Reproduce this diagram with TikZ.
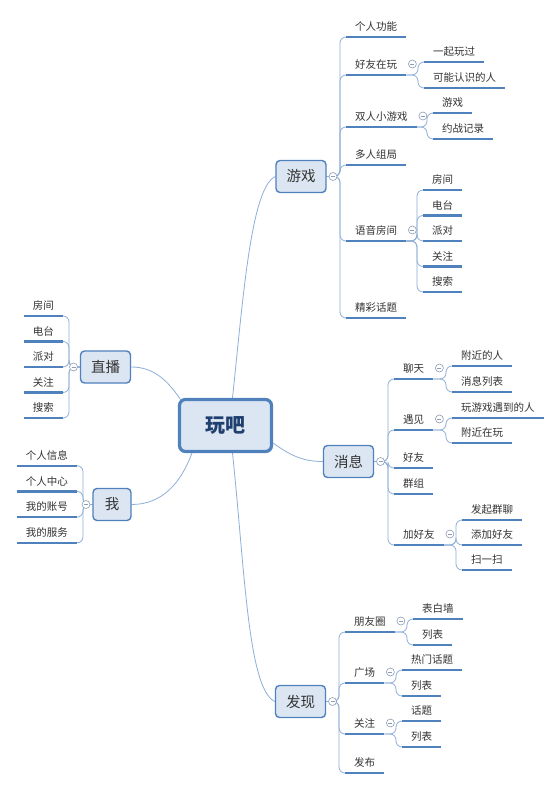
\documentclass[tikz,border=0pt]{standalone}
\usepackage{fontspec}
\usepackage{tikz}
\usepackage{xcolor}
\usetikzlibrary{positioning}
\newfontfamily\cjk{Noto Sans CJK SC}
\definecolor{topicfill}{HTML}{DCE6F2}
\definecolor{topicline}{HTML}{4F81BD}
\definecolor{branch}{HTML}{8EAFD8}
\definecolor{ink}{HTML}{333333}
\definecolor{rootink}{HTML}{1F3F6E}
\definecolor{knobline}{HTML}{8C9DB5}
\pgfdeclarelayer{back}
\pgfsetlayers{back,main}
\tikzset{
  root/.style={draw=topicline, fill=topicfill, rounded corners=6pt, line width=3.2pt,
               minimum width=92pt, minimum height=52pt, text=rootink,
               font=\cjk\fontsize{20}{24}\selectfont\bfseries},
  topic/.style={draw=topicline, fill=topicfill, rounded corners=4pt, line width=1.4pt,
                minimum width=50pt, minimum height=32pt, inner xsep=6pt, text=ink,
                font=\cjk\fontsize{14.5}{17}\selectfont},
  uline/.style={draw=topicline, line width=2.2pt},
  leaf/.style={anchor=south west, inner xsep=9pt, inner ysep=4pt, text height=8pt,
               text depth=2pt, text=ink, font=\cjk\fontsize{10.5}{12}\selectfont,
               append after command={(\tikzlastnode.south west) edge[uline] (\tikzlastnode.south east)}},
  leafL/.style={leaf, anchor=south east},
  conn/.style={draw=branch, line width=0.8pt, rounded corners=6pt},
  elbow/.style={to path={-| ([xshift=-6pt]\tikztotarget) -- (\tikztotarget)}},
  elbowL/.style={to path={-| ([xshift=6pt]\tikztotarget) -- (\tikztotarget)}},
  knob/.style={circle, draw=knobline, fill=white, line width=0.6pt, minimum size=8pt, inner sep=0pt,
               path picture={\draw[draw=knobline, line width=0.6pt]
                 ([xshift=2pt]path picture bounding box.west) -- ([xshift=-2pt]path picture bounding box.east);}}
}

\begin{document}
\begin{tikzpicture}[x=1pt,y=-1pt]
  \useasboundingbox (0,0) rectangle (558,788);
  \node[root] (c) at (225.5,425.5) {玩吧};
  \node[topic] (g) at (301,176.5) {游戏};
  \node[topic] (x) at (348.5,461.5) {消息};
  \node[topic] (f) at (300.5,701.5) {发现};
  \node[topic] (z) at (105.5,367) {直播};
  \node[topic, minimum width=38pt] (w) at (112,504.5) {我};

  % 游戏
  \node[leaf] (g1) at (346,37) {个人功能};
  \node[leaf] (g2) at (346,75) {好友在玩};
  \node[leaf] (g3) at (346,127) {双人小游戏};
  \node[leaf] (g4) at (346,165) {多人组局};
  \node[leaf] (g5) at (346,241) {语音房间};
  \node[leaf] (g6) at (346,318) {精彩话题};
  \node[leaf] (g2a) at (424,62) {一起玩过};
  \node[leaf] (g2b) at (424,88) {可能认识的人};
  \node[leaf] (g3a) at (433,113) {游戏};
  \node[leaf] (g3b) at (433,139) {约战记录};
  \foreach \t [count=\i] in {房间,电台,派对,关注,搜索}
    \node[leaf] (g5\i) at (423,164.5+25.5*\i) {\t};

  % 消息
  \node[leaf] (x1) at (394,379) {聊天};
  \node[leaf] (x2) at (394,430) {遇见};
  \node[leaf] (x3) at (394,468) {好友};
  \node[leaf] (x4) at (394,494) {群组};
  \node[leaf] (x5) at (394,545) {加好友};
  \node[leaf] (x1a) at (452,366) {附近的人};
  \node[leaf] (x1b) at (452,392) {消息列表};
  \node[leaf] (x2a) at (452,418) {玩游戏遇到的人};
  \node[leaf] (x2b) at (452,443) {附近在玩};
  \node[leaf] (x5a) at (462,520) {发起群聊};
  \node[leaf] (x5b) at (462,545) {添加好友};
  \node[leaf] (x5c) at (462,570) {扫一扫};

  % 发现
  \node[leaf] (f1) at (345,632) {朋友圈};
  \node[leaf] (f2) at (345,683) {广场};
  \node[leaf] (f3) at (345,734) {关注};
  \node[leaf] (f4) at (345,773) {发布};
  \node[leaf] (f1a) at (413,619) {表白墙};
  \node[leaf] (f1b) at (413,645) {列表};
  \node[leaf] (f2a) at (402,670) {热门话题};
  \node[leaf] (f2b) at (402,696) {列表};
  \node[leaf] (f3a) at (402,721) {话题};
  \node[leaf] (f3b) at (402,747) {列表};

  % 直播, 我
  \foreach \t [count=\i] in {房间,电台,派对,关注,搜索}
    \node[leafL] (z\i) at (63,290.5+25.5*\i) {\t};
  \foreach \t [count=\i] in {个人信息,个人中心,我的账号,我的服务}
    \node[leafL] (w\i) at (77,440+25.7*\i) {\t};

  \begin{pgfonlayer}{back}
    \fill[white] (0,0) rectangle (558,788);
    \draw[conn] ([xshift=7pt]c.north) to[out=84,in=205,out looseness=1.2,in looseness=0.3] (g.west);
    \draw[conn] ([yshift=10pt]c.south east) to[out=-35,in=180] (x.west);
    \draw[conn] ([xshift=7pt]c.south) to[out=-84,in=155,out looseness=1.2,in looseness=0.3] (f.west);
    \draw[conn] (z.east) to[out=0,in=125] ([xshift=3pt,yshift=-2pt]c.north west);
    \draw[conn] (w.east) to[out=0,in=-110] ([xshift=14pt]c.south west);
    \foreach \n in {g1,g2,g3,g4,g5,g6} \draw[conn] (g.east) to[elbow] (\n.south west);
    \foreach \n in {g2a,g2b} \draw[conn] (g2.south east) to[elbow] (\n.south west);
    \foreach \n in {g3a,g3b} \draw[conn] (g3.south east) to[elbow] (\n.south west);
    \foreach \n in {g51,g52,g53,g54,g55} \draw[conn] (g5.south east) to[elbow] (\n.south west);
    \foreach \n in {x1,x2,x3,x4,x5} \draw[conn] (x.east) to[elbow] (\n.south west);
    \foreach \n in {x1a,x1b} \draw[conn] (x1.south east) to[elbow] (\n.south west);
    \foreach \n in {x2a,x2b} \draw[conn] (x2.south east) to[elbow] (\n.south west);
    \foreach \n in {x5a,x5b,x5c} \draw[conn] (x5.south east) to[elbow] (\n.south west);
    \foreach \n in {f1,f2,f3,f4} \draw[conn] (f.east) to[elbow] (\n.south west);
    \foreach \n in {f1a,f1b} \draw[conn] (f1.south east) to[elbow] (\n.south west);
    \foreach \n in {f2a,f2b} \draw[conn] (f2.south east) to[elbow] (\n.south west);
    \foreach \n in {f3a,f3b} \draw[conn] (f3.south east) to[elbow] (\n.south west);
    \foreach \n in {z1,z2,z3,z4,z5} \draw[conn] (z.west) to[elbowL] (\n.south east);
    \foreach \n in {w1,w2,w3,w4} \draw[conn] (w.west) to[elbowL] (\n.south east);
  \end{pgfonlayer}

  % collapse knobs
  \node[knob, right=2pt of g] (gk) {};
  \node[knob, right=2pt of x] (xk) {};
  \node[knob, right=2pt of f] (fk) {};
  \node[knob, left=2pt of z] (zk) {};
  \node[knob, left=2pt of w] (wk) {};
  \foreach \n in {g2,g3,g5,x1,x2,x5,f1,f2,f3}
    \node[knob] (\n k) at ([xshift=6pt,yshift=11pt]\n.south east) {};
\end{tikzpicture}
\end{document}
